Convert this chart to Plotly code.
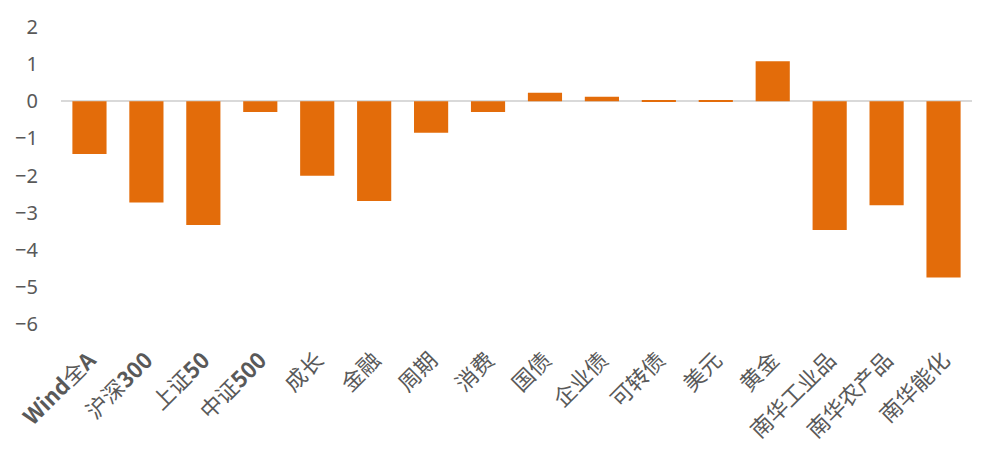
import plotly.graph_objects as go

categories = ["<b>Wind</b>全<b>A</b>", "沪深<b>300</b>", "上证<b>50</b>", "中证<b>500</b>", "成长", "金融", "周期", "消费",
              "国债", "企业债", "可转债", "美元", "黄金", "南华工业品", "南华农产品", "南华能化"]
values = [-1.42, -2.73, -3.33, -0.29, -2.01, -2.69, -0.85, -0.29,
          0.23, 0.12, 0.03, 0.03, 1.08, -3.47, -2.80, -4.75]
y_ticks = [2, 1, 0, -1, -2, -3, -4, -5, -6]

fig = go.Figure(go.Bar(x=categories, y=values, marker=dict(color="#E36C0A", line=dict(width=0))))

fig.update_layout(
    width=984, height=453,
    margin=dict(l=53, r=20, t=19, b=137),
    paper_bgcolor="white", plot_bgcolor="white",
    bargap=0.4, showlegend=False,
    font=dict(family="Noto Sans CJK SC, Noto Sans, sans-serif", color="#595959"),
)
fig.update_xaxes(tickangle=-45, tickfont=dict(size=22, family="Noto Sans CJK SC", color="#595959"),
                 showgrid=False, showline=False, ticks="", ticklabelstandoff=18, automargin=False)
fig.update_yaxes(range=[-6, 2], tickvals=y_ticks, showgrid=False, zeroline=True,
                 zerolinecolor="#D9D9D9", zerolinewidth=2, showline=False, ticks="", automargin=False,
                 tickfont=dict(size=20, family="Noto Sans", color="#595959"), ticklabelstandoff=22)

fig.write_html("out.html")
